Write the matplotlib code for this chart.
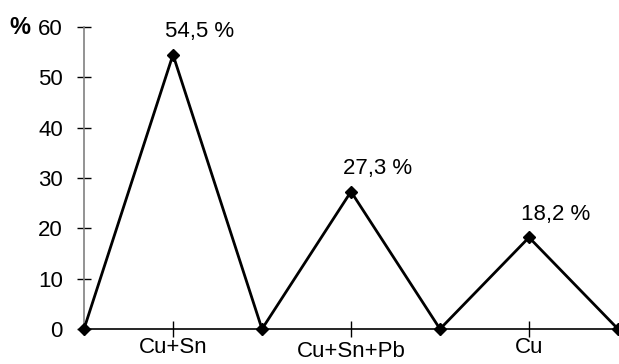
import matplotlib
matplotlib.use("Agg")
import matplotlib.pyplot as plt
from matplotlib.ticker import FixedLocator

plt.rcParams["font.family"] = ["Liberation Sans", "DejaVu Sans"]
FS = 16

# data
x_pos = [0, 1, 2, 3, 4, 5, 6]
values = [0, 54.5, 0, 27.3, 0, 18.2, 0]
categories = ["Cu+Sn", "Cu+Sn+Pb", "Cu"]
cat_pos = [1, 3, 5]
peak_labels = ["54,5 %", "27,3 %", "18,2 %"]

fig = plt.figure(figsize=(6.19, 3.64), dpi=100)
ax = fig.add_axes([84 / 619, 35 / 364, 534 / 619, 302 / 364])

ax.plot(x_pos, values, color="black", lw=2, marker="D", ms=6.5,
        clip_on=False, zorder=3)

ax.set_xlim(0, 6)
ax.set_ylim(0, 60)

for s in ["top", "right"]:
    ax.spines[s].set_visible(False)
ax.spines["left"].set_color("#808080")
ax.spines["left"].set_linewidth(1.2)
ax.spines["bottom"].set_color("black")
ax.spines["bottom"].set_linewidth(1.2)

ax.set_yticks(range(0, 61, 10))
ax.tick_params(axis="y", direction="inout", length=9.4, width=1,
               labelsize=FS, pad=10.5, color="black")
ax.set_xticks(cat_pos)
ax.set_xticklabels(categories)
ax.xaxis.set_minor_locator(FixedLocator([0, 2, 4, 6]))
ax.tick_params(axis="x", which="major", direction="inout", length=12,
               width=1, labelsize=FS, pad=0)
ax.tick_params(axis="x", which="minor", direction="out", length=4,
               width=1)
# middle label sits a bit lower in the original
ax.get_xticklabels()[1].set_y(-0.013)

for xp, lab in zip(cat_pos, peak_labels):
    ax.annotate(lab, (xp, values[xp]), xytext=(-6, 12.5),
                textcoords="offset points", ha="left", va="baseline",
                fontsize=FS)

fig.text(9 / 619, 1 - 27 / 364, "%", fontsize=FS + 1, fontweight="bold",
         ha="left", va="center")

fig.savefig("out.png", dpi=100)
